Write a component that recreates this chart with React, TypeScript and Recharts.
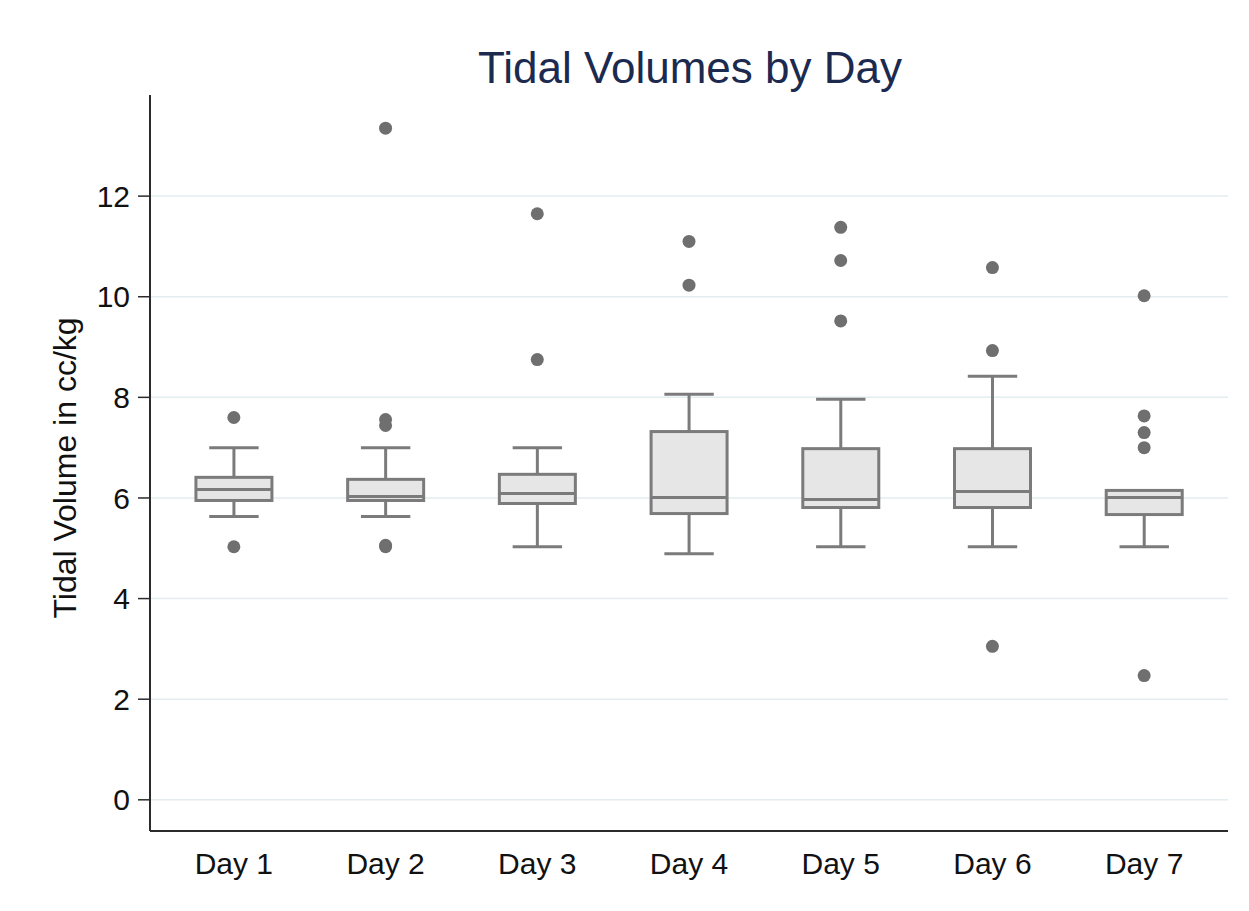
import React from "react";
import {
  ComposedChart,
  Bar,
  Scatter,
  XAxis,
  YAxis,
  CartesianGrid,
} from "recharts";

const days = ["Day 1", "Day 2", "Day 3", "Day 4", "Day 5", "Day 6", "Day 7"];
const lowerWhisker = [5.63, 5.63, 5.03, 4.89, 5.03, 5.03, 5.03];
const q1 = [5.95, 5.95, 5.89, 5.69, 5.81, 5.81, 5.67];
const median = [6.17, 6.03, 6.09, 6.01, 5.97, 6.13, 6.01];
const q3 = [6.41, 6.37, 6.47, 7.32, 6.98, 6.98, 6.15];
const upperWhisker = [7.0, 7.0, 7.0, 8.06, 7.96, 8.42, 6.15];
const outliers = [
  [7.6, 5.03],
  [13.35, 7.56, 7.44, 5.06, 5.03],
  [11.65, 8.75],
  [11.1, 10.23],
  [11.38, 10.72, 9.52],
  [10.58, 8.93, 3.05],
  [10.02, 7.63, 7.3, 7.0, 2.47],
];
const yTicks = [0, 2, 4, 6, 8, 10, 12];

const boxData = days.map((day, i) => ({
  day,
  range: [lowerWhisker[i], upperWhisker[i]],
  lo: lowerWhisker[i],
  q1: q1[i],
  med: median[i],
  q3: q3[i],
  hi: upperWhisker[i],
}));

const outlierData = outliers.flatMap((vals, i) =>
  vals.map((val) => ({ idx: i, val }))
);

const GREY = "#7b7b7b";
const FILL = "#e6e6e6";
const DOT = "#6f6f6f";
const AXIS = "#2b2b2b";
const FONT = '"Liberation Sans", Arial, sans-serif';

function BoxShape(props: any) {
  const { x, y, width, height, payload } = props;
  const { lo, hi } = payload;
  const py = (v: number) => y + ((hi - v) / (hi - lo)) * height;
  const cx = x + width / 2;
  const cap = width * 0.325;
  return (
    <g stroke={GREY} strokeWidth={3}>
      <line x1={cx} x2={cx} y1={py(hi)} y2={py(payload.q3)} />
      <line x1={cx} x2={cx} y1={py(payload.q1)} y2={py(lo)} />
      <line x1={cx - cap} x2={cx + cap} y1={py(hi)} y2={py(hi)} />
      <line x1={cx - cap} x2={cx + cap} y1={py(lo)} y2={py(lo)} />
      <rect
        x={x}
        y={py(payload.q3)}
        width={width}
        height={py(payload.q1) - py(payload.q3)}
        fill={FILL}
      />
      <line x1={x} x2={x + width} y1={py(payload.med)} y2={py(payload.med)} />
    </g>
  );
}

function Dot(props: any) {
  return <circle cx={props.cx} cy={props.cy} r={6.5} fill={DOT} />;
}

function YLabel(props: any) {
  const vb = props.viewBox;
  const cy = vb.y + vb.height / 2 + 5;
  return (
    <text
      x={68}
      y={cy}
      transform={`rotate(-90, 68, ${cy})`}
      textAnchor="middle"
      fontSize={32}
      fill="#111"
    >
      Tidal Volume in cc/kg
    </text>
  );
}

export default function App() {
  return (
    <div style={{ fontFamily: FONT, width: 1233, height: 895 }}>
      <ComposedChart
        width={1233}
        height={895}
        data={boxData}
        margin={{ top: 87, right: 13, bottom: 0, left: 20 }}
        barCategoryGap="25%"
      >
        <text
          x={682}
          y={75}
          textAnchor="middle"
          fontSize={44}
          fill="#1c2a50"
        >
          Tidal Volumes by Day
        </text>
        <CartesianGrid
          vertical={false}
          horizontalValues={yTicks}
          stroke="#e3ecef"
          strokeWidth={1.5}
        />
        <XAxis
          dataKey="day"
          height={72}
          padding={{ left: 8, right: 8 }}
          tickLine={false}
          tickSize={0}
          tickMargin={22}
          axisLine={{ stroke: AXIS, strokeWidth: 2 }}
          tick={{ fontSize: 30, fill: "#111" }}
        />
        <XAxis
          xAxisId="num"
          dataKey="idx"
          type="number"
          domain={[-0.5, 6.5]}
          allowDataOverflow
          padding={{ left: 8, right: 8 }}
          hide
        />
        <YAxis
          width={122}
          domain={[-0.62, 14.01]}
          ticks={yTicks}
          allowDataOverflow
          tickSize={12}
          tickMargin={8}
          axisLine={{ stroke: AXIS, strokeWidth: 2 }}
          tickLine={{ stroke: AXIS, strokeWidth: 1.5 }}
          tick={{ fontSize: 30, fill: "#111" }}
          label={{ content: YLabel }}
        />
        <Bar
          dataKey="range"
          shape={BoxShape}
          isAnimationActive={false}
        />
        <Scatter
          xAxisId="num"
          data={outlierData}
          dataKey="val"
          shape={Dot}
          isAnimationActive={false}
        />
      </ComposedChart>
    </div>
  );
}
